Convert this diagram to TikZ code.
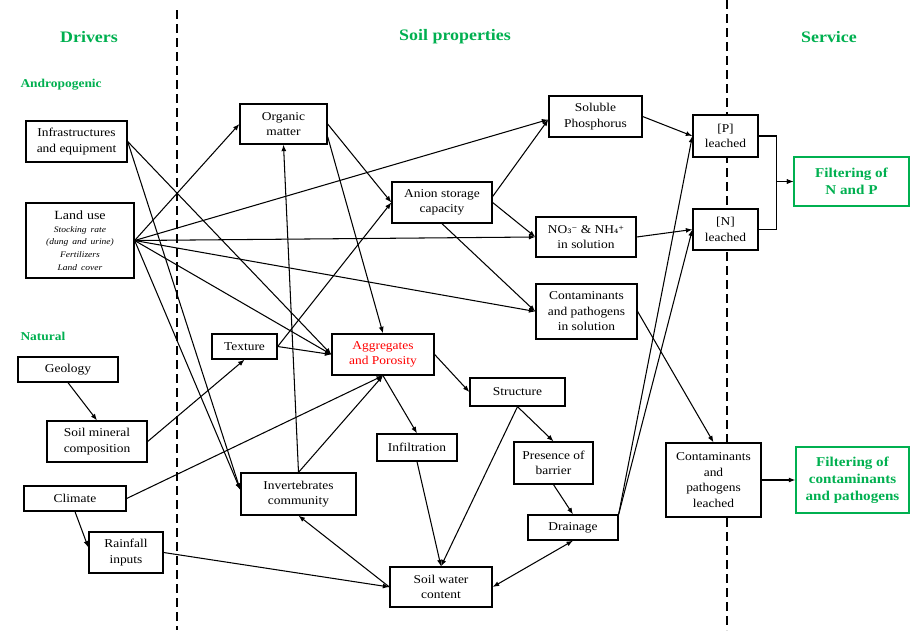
\documentclass[tikz,border=0pt]{standalone}
\usepackage{fontspec}
\setmainfont{Liberation Serif}[FakeStretch=1.12]
\newfontfamily\chemfont{DejaVu Serif}[Scale=0.9]
\usetikzlibrary{arrows.meta,calc}
\definecolor{lgreen}{RGB}{0,176,80}
\begin{document}
\begin{tikzpicture}[x=1pt,y=-1pt,
  box/.style={draw,line width=1.3pt,fill=white,align=center,inner sep=1pt,font=\fontsize{12}{15.5}\selectfont},
  arr/.style={-{Latex[length=6.5pt,width=5pt]},line width=1.05pt},
  darr/.style={{Latex[length=6.5pt,width=5pt]}-{Latex[length=6.5pt,width=5pt]},line width=1.05pt},
  gbox/.style={draw=lgreen,line width=1.4pt,fill=white,align=center,text=lgreen,inner sep=1pt,font=\bfseries\fontsize{13.5}{17}\selectfont},
  hdr/.style={text=lgreen,font=\bfseries\fontsize{16}{18}\selectfont},
  subhdr/.style={text=lgreen,font=\bfseries\fontsize{12}{14}\selectfont,anchor=west},
  vdash/.style={line width=1.3pt,dash pattern=on 9pt off 5pt}]
\useasboundingbox (0,0) rectangle (910,630);
\fill[white] (0,0) rectangle (910,630);

% column separators
\draw[vdash] (177,10) -- (177,630);
\draw[vdash] (727,0) -- (727,630);

% headers
\node[hdr] (hdrA) at (89,37) {Drivers};
\node[hdr] (hdrB) at (455,37) {Soil properties};
\node[hdr] (hdrC) at (829,37) {Service};
\node[subhdr] (anth) at (17,85) {Andropogenic};
\node[subhdr] (natu) at (17,336) {Natural};

% drivers
\node[box,minimum width=101,minimum height=41] (infra) at (76.5,141.5) {Infrastructures\\and equipment};
\node[box,minimum width=108,minimum height=75,text width=104,inner sep=1pt] (lu) at (80,240.5)
  {{\fontsize{12.5}{14}\selectfont Land use\par}
   {\itshape\fontsize{8.5}{12.7}\selectfont Stocking rate\\(dung and urine)\\Fertilizers\\Land cover\par}};
\node[box,minimum width=100,minimum height=25] (geo) at (68,369.5) {Geology};
\node[box,minimum width=100,minimum height=41] (smc) at (97,441.5) {Soil mineral\\composition};
\node[box,minimum width=102,minimum height=25] (cli) at (75,498.5) {Climate};
\node[box,minimum width=74,minimum height=41] (rain) at (126,552.5) {Rainfall\\inputs};

% soil properties
\node[box,minimum width=87,minimum height=40] (om) at (283.5,124) {Organic\\matter};
\node[box,minimum width=100,minimum height=41] (asc) at (442,202.5) {Anion storage\\capacity};
\node[box,minimum width=65,minimum height=25] (tex) at (244.5,346.5) {Texture};
\node[box,minimum width=102,minimum height=41,text=red] (agg) at (383,354.5) {Aggregates\\and Porosity};
\node[box,minimum width=93,minimum height=41] (solp) at (595.5,116.5) {Soluble\\Phosphorus};
\node[box,minimum width=100,minimum height=40] (no3) at (586,237) {NO{\chemfont ₃⁻} \& NH{\chemfont ₄⁺}\\in solution};
\node[box,minimum width=101,minimum height=55] (cis) at (586.5,311.5) {Contaminants\\and pathogens\\in solution};
\node[box,minimum width=95,minimum height=28] (str) at (517.5,392) {Structure};
\node[box,minimum width=80,minimum height=27] (inf) at (417,447.5) {Infiltration};
\node[box,minimum width=79,minimum height=42] (pob) at (553.5,463) {Presence of\\barrier};
\node[box,minimum width=90,minimum height=25] (dra) at (573,527.5) {Drainage};
\node[box,minimum width=102,minimum height=40] (swc) at (441,587) {Soil water\\content};
\node[box,minimum width=115,minimum height=42] (inv) at (298.5,494) {Invertebrates\\community};

% leaching and service
\node[box,minimum width=65,minimum height=42] (pl) at (725.5,136) {[P]\\leached};
\node[box,minimum width=65,minimum height=41] (nl) at (725.5,229.5) {[N]\\leached};
\node[box,minimum width=95,minimum height=74] (cl) at (713.5,480) {Contaminants\\and\\pathogens\\leached};
\node[gbox,minimum width=115,minimum height=49] (fnp) at (851.5,181.5) {Filtering of\\N and P};
\node[gbox,minimum width=113,minimum height=66] (fcp) at (852.5,480) {Filtering of\\contaminants\\and pathogens};

% connectors
\draw[arr] (lu.east) -- (om.west);
\draw[arr] (lu.east) -- ([yshift=-3pt]solp.west);
\draw[arr] (lu.east) -- (no3.west);
\draw[arr] (lu.east) -- (cis.west);
\draw[arr] (lu.east) -- (agg.west);
\draw[arr] (lu.east) -- ([yshift=4pt]inv.west);
\draw[arr] (infra.east) -- (agg.west);
\draw[arr] (infra.east) -- ([yshift=4pt]inv.west);
\draw[arr] (om.east) -- (asc.west);
\draw[arr] ([yshift=8pt]om.south east) -- (agg.north);
\draw[arr] (inv.north) -- (om.south);
\draw[arr] (inv.north) -- (agg.south);
\draw[arr] ([yshift=6pt]asc.east) -- ([yshift=-3pt]solp.west);
\draw[arr] (asc.east) -- (no3.west);
\draw[arr] (asc.south) -- (cis.west);
\draw[arr] (tex.east) -- (asc.west);
\draw[arr] (tex.east) -- (agg.west);
\draw[arr] (smc.east) -- (tex.south);
\draw[arr] (geo.south) -- (smc.north);
\draw[arr] (cli.east) -- (agg.south);
\draw[arr] (cli.south) -- ([yshift=5pt]rain.west);
\draw[arr] (rain.east) -- (swc.west);
\draw[arr] (swc.west) -- (inv.south);
\draw[arr] (agg.east) -- (str.west);
\draw[arr] (agg.south) -- (inf.north);
\draw[arr] (inf.south) -- (swc.north);
\draw[arr] (str.south) -- (swc.north);
\draw[arr] (str.south) -- (pob.north);
\draw[arr] (pob.south) -- (dra.north);
\draw[darr] (dra.south) -- (swc.east);
\draw[arr] (dra.north east) -- (pl.west);
\draw[arr] (dra.north east) -- (nl.west);
\draw[arr] (solp.east) -- (pl.west);
\draw[arr] (no3.east) -- (nl.west);
\draw[arr] (cis.east) -- (cl.north);
\draw[arr] (pl.east) -- ++(18,0) |- (fnp.west);
\draw[arr] (nl.east) -- ++(18,0) |- (fnp.west);
\draw[arr] (cl.east) -- (fcp.west);
\end{tikzpicture}
\end{document}
